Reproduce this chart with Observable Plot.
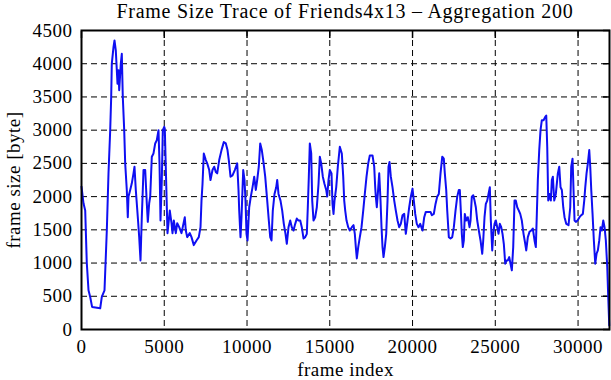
<!DOCTYPE html>
<html>
<head>
<meta charset="utf-8">
<script src="https://cdn.jsdelivr.net/npm/d3@7"></script>
<script src="https://cdn.jsdelivr.net/npm/@observablehq/plot@0.6"></script>
<style>
  html, body { margin: 0; padding: 0; background: #fff; }
  #wrap { width: 611px; }
  #title { height: 22px; line-height: 22px; font-family: "Liberation Serif", serif; font-size: 20px; text-align: center; padding-left: 79px; box-sizing: border-box; color: #000; letter-spacing: 0.75px; white-space: nowrap; }
  #chart svg text { font-family: "Liberation Serif", serif; letter-spacing: 0.5px; font-variant: normal; }
</style>
</head>
<body>
<div id="wrap">
  <div id="title">Frame Size Trace of Friends4x13 – Aggregation 200</div>
  <div id="chart"></div>
</div>
<script>
const chartTitle = "Frame Size Trace of Friends4x13 – Aggregation 200";
const xLabel = "frame index";
const yLabel = "frame size [byte]";
const xTicks = [0, 5000, 10000, 15000, 20000, 25000, 30000];
const yTicks = [0, 500, 1000, 1500, 2000, 2500, 3000, 3500, 4000, 4500];
// [frame index, frame size in byte]
const trace = [
  [0,2150],[120,1900],[224,1790],[260,1490],[320,1000],[423,590],[526,490],[640,340],[1130,320],[1227,490],
  [1390,590],[1529,1490],[1631,2350],[1734,3000],[1794,3500],[1831,4000],[1933,4250],[1994,4350],[2072,4200],[2175,3700],
  [2236,3900],[2278,3600],[2375,4000],[2435,4150],[2495,3500],[2580,3000],[2640,2500],[2737,2100],[2797,1690],[2840,2000],
  [2942,2100],[3039,2200],[3142,2350],[3202,2450],[3281,2100],[3402,1690],[3486,1390],[3565,1040],[3643,1690],[3746,2400],
  [3849,2400],[3945,1900],[4006,1620],[4090,1900],[4151,2000],[4248,2600],[4350,2650],[4453,2800],[4550,2850],[4652,3000],
  [4713,2500],[4773,1640],[4852,2250],[4912,3000],[4997,3050],[5033,3020],[5196,1450],[5335,1790],[5438,1600],[5498,1450],
  [5577,1640],[5698,1450],[5782,1600],[5903,1540],[6042,1450],[6241,1690],[6302,1490],[6386,1390],[6543,1450],[6646,1390],
  [6785,1270],[6948,1340],[7087,1390],[7190,1540],[7250,1940],[7311,2190],[7389,2650],[7510,2550],[7595,2500],[7716,2400],
  [7794,2250],[7915,2400],[8018,2450],[8115,2370],[8199,2350],[8320,2550],[8459,2700],[8598,2820],[8719,2800],[8821,2700],
  [8900,2550],[9003,2300],[9123,2320],[9262,2400],[9407,2500],[9486,2100],[9528,1790],[9607,1390],[9667,1690],[9770,2400],
  [9848,2250],[9909,1940],[9969,1440],[10030,1340],[10132,1840],[10229,2000],[10332,2140],[10435,2300],[10531,2100],[10615,2250],
  [10712,2450],[10797,2800],[10894,2700],[10978,2550],[11099,2300],[11220,1940],[11317,1640],[11401,1390],[11480,1340],[11558,1790],
  [11661,2040],[11764,2140],[11824,2250],[11903,2040],[12023,1940],[12126,1790],[12223,1590],[12325,1440],[12404,1290],[12507,1540],
  [12609,1640],[12706,1540],[12809,1490],[12912,1590],[13008,1670],[13111,1640],[13214,1640],[13310,1540],[13413,1370],[13516,1390],
  [13613,1440],[13673,1840],[13734,2300],[13794,2800],[13879,2650],[13939,1940],[14017,1640],[14120,1690],[14217,1840],[14320,2190],
  [14398,2600],[14483,2500],[14580,2300],[14682,2190],[14785,2100],[14845,2000],[14924,2250],[15002,2400],[15105,2350],[15165,1890],
  [15226,1740],[15286,1940],[15389,2140],[15486,2450],[15607,2750],[15727,2650],[15812,2300],[15873,1940],[15933,1790],[16012,1640],
  [16114,1540],[16211,1490],[16332,1540],[16435,1570],[16513,1440],[16574,1240],[16634,1070],[16719,1240],[16815,1390],[16918,1540],
  [17021,1790],[17117,2040],[17220,2300],[17322,2500],[17419,2620],[17582,2620],[17685,2450],[17745,2140],[17781,2000],[17842,1840],
  [17902,2040],[17987,2350],[18066,1940],[18126,1540],[18187,1240],[18247,1090],[18326,1240],[18410,1440],[18489,1940],[18549,2450],
  [18610,2520],[18688,2300],[18791,2140],[18894,1940],[18990,1790],[19093,1640],[19195,1540],[19292,1590],[19395,1720],[19497,1740],
  [19594,1440],[19697,1640],[19799,1840],[19896,2000],[19999,2120],[20077,1940],[20162,1740],[20258,1590],[20361,1540],[20464,1590],
  [20603,1490],[20706,1690],[20802,1770],[20965,1770],[21086,1770],[21165,1720],[21286,1740],[21389,1890],[21491,2000],[21588,2040],
  [21691,2350],[21794,2600],[21890,2570],[21951,2350],[22035,2100],[22096,1790],[22193,1390],[22295,1370],[22398,1390],[22495,1540],
  [22597,1790],[22700,2000],[22797,2100],[22857,2100],[22917,1790],[22978,1440],[23038,1240],[23099,1340],[23159,1740],[23244,1640],
  [23340,1690],[23443,1540],[23504,1640],[23582,2000],[23667,2020],[23746,1940],[23824,1840],[23909,1640],[24005,1490],[24108,1340],
  [24211,1140],[24271,1340],[24349,1690],[24428,1890],[24513,1940],[24591,2040],[24670,2140],[24730,1640],[24815,1190],[24875,1440],
  [24954,1590],[25032,1640],[25117,1540],[25195,1440],[25274,1590],[25358,1540],[25437,1440],[25515,1290],[25600,990],[25679,1040],
  [25757,1040],[25842,1090],[25920,990],[25999,890],[26083,1240],[26162,1940],[26241,1940],[26326,1840],[26422,1790],[26507,1740],
  [26603,1640],[26706,1440],[26809,1290],[26869,1190],[26966,1390],[27068,1470],[27171,1490],[27268,1520],[27370,1340],[27449,1240],
  [27510,1740],[27570,2250],[27655,2700],[27733,3000],[27812,3150],[27915,3150],[28017,3200],[28078,3220],[28138,2750],[28199,1940],
  [28277,2040],[28356,1940],[28416,2250],[28477,2300],[28561,1940],[28658,2040],[28779,2350],[28864,2450],[28942,2140],[29021,2100],
  [29105,1840],[29183,1690],[29286,1590],[29425,1570],[29528,1840],[29588,2450],[29667,2570],[29727,2100],[29788,1640],[29866,1620],
  [29969,1640],[30090,1690],[30193,1720],[30290,1740],[30374,1940],[30435,2140],[30513,2350],[30592,2500],[30677,2700],[30737,2450],
  [30798,2100],[30876,1740],[30955,1340],[31039,990],[31118,1140],[31196,1190],[31281,1340],[31359,1540],[31438,1490],[31522,1640],
  [31601,1540],[31679,1340],[31764,940],[31824,490],[31885,60]
];

const fontFam = "'Liberation Serif', serif";
const dash = "6,4";
const plain = d => String(d);

const chart = Plot.plot({
  width: 611,
  height: 358,
  marginLeft: 81,
  marginRight: 2,
  marginTop: 8,
  marginBottom: 51,
  style: { fontFamily: fontFam, fontSize: "19px", color: "#000", background: "#fff", overflow: "visible" },
  x: { domain: [0, 31900], ticks: xTicks, label: null },
  y: { domain: [0, 4500], ticks: yTicks, label: null },
  marks: [
    Plot.gridX(xTicks, { stroke: "#000", strokeOpacity: 1, strokeWidth: 1, strokeDasharray: dash }),
    Plot.gridY(yTicks, { stroke: "#000", strokeOpacity: 1, strokeWidth: 1, strokeDasharray: dash }),
    Plot.axisX(xTicks, { anchor: "bottom", tickSize: 0, tickPadding: 10, fontSize: 19, tickFormat: plain, label: xLabel, labelAnchor: "center", labelOffset: 46, labelArrow: "none" }),
    Plot.axisY(yTicks, { anchor: "left", tickSize: 0, tickPadding: 9, fontSize: 19, tickFormat: plain, label: yLabel, labelAnchor: "center", labelOffset: 75, labelArrow: "none" }),
    Plot.axisY(yTicks, { anchor: "right", tickSize: -7, tickFormat: () => "", label: null, strokeWidth: 1.5 }),
    Plot.axisX(xTicks, { anchor: "top", tickSize: -7, tickFormat: () => "", label: null, strokeWidth: 1.5 }),
    Plot.line(trace, { x: d => d[0], y: d => d[1], stroke: "#0f0ff2", strokeWidth: 2 }),
    Plot.frame({ stroke: "#000", strokeWidth: 2 })
  ]
});
document.getElementById("chart").appendChild(chart);
</script>
</body>
</html>
